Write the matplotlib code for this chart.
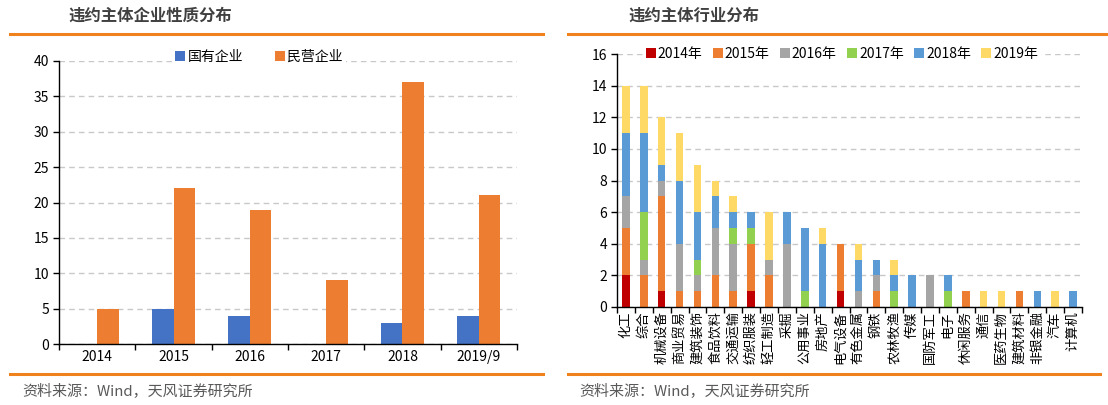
import numpy as np
import matplotlib
matplotlib.use("Agg")
from matplotlib import pyplot as plt
from matplotlib.lines import Line2D

plt.rcParams['font.family'] = ['Noto Sans CJK SC', 'DejaVu Sans']
plt.rcParams['axes.unicode_minus'] = False

# 左图：违约主体企业性质分布
years = ['2014', '2015', '2016', '2017', '2018', '2019/9']
soe = [0, 5, 4, 0, 3, 4]
private = [5, 22, 19, 9, 37, 21]

# 右图：违约主体行业分布
industries = ['化工', '综合', '机械设备', '商业贸易', '建筑装饰', '食品饮料', '交通运输',
              '纺织服装', '轻工制造', '采掘', '公用事业', '房地产', '电气设备', '有色金属',
              '钢铁', '农林牧渔', '传媒', '国防军工', '电子', '休闲服务', '通信', '医药生物',
              '建筑材料', '非银金融', '汽车', '计算机']
y2014 = [2, 0, 1, 0, 0, 0, 0, 1, 0, 0, 0, 0, 1, 0, 0, 0, 0, 0, 0, 0, 0, 0, 0, 0, 0, 0]
y2015 = [3, 2, 6, 1, 1, 2, 1, 3, 2, 0, 0, 0, 3, 0, 1, 0, 0, 0, 0, 1, 0, 0, 1, 0, 0, 0]
y2016 = [2, 1, 1, 3, 1, 3, 3, 0, 1, 4, 0, 0, 0, 1, 1, 0, 0, 2, 0, 0, 0, 0, 0, 0, 0, 0]
y2017 = [0, 3, 0, 0, 1, 0, 1, 1, 0, 0, 1, 0, 0, 0, 0, 1, 0, 0, 1, 0, 0, 0, 0, 0, 0, 0]
y2018 = [4, 5, 1, 4, 3, 2, 1, 1, 0, 2, 4, 4, 0, 2, 1, 1, 2, 0, 1, 0, 0, 0, 0, 1, 0, 1]
y2019 = [3, 3, 3, 3, 3, 1, 1, 0, 3, 0, 0, 1, 0, 1, 0, 1, 0, 0, 0, 0, 1, 1, 0, 0, 1, 0]
series_labels = ['2014年', '2015年', '2016年', '2017年', '2018年', '2019年']

W, H = 1108, 405
fig = plt.figure(figsize=(W / 100, H / 100), dpi=100)


def fx(px):
    return px / W


def fy(py):
    return 1 - py / H


ORANGE_LINE = '#F0821E'
TITLE_C = '#404040'
GRID_C = '#C8C8C8'


def style_axes(ax):
    for s in ['top', 'right']:
        ax.spines[s].set_visible(False)
    for s in ['left', 'bottom']:
        ax.spines[s].set_color('black')
        ax.spines[s].set_linewidth(1.0)
    ax.yaxis.grid(True, linestyle=(0, (4, 3)), color=GRID_C, linewidth=1)
    ax.set_axisbelow(True)
    ax.tick_params(axis='y', length=4, width=1, labelsize=10, pad=3, colors='black')
    ax.tick_params(axis='x', which='minor', length=4, width=1, direction='out')
    ax.tick_params(axis='x', which='major', length=0, labelsize=10, pad=4)


# ---------- 左图 ----------
ax1 = fig.add_axes([fx(59), fy(344), fx(517 - 59), fy(61) - fy(344)])
x = np.arange(len(years))
bw = 0.28
ax1.bar(x - bw / 2, soe, bw, color='#4472C4', label='国有企业')
ax1.bar(x + bw / 2, private, bw, color='#ED7D31', label='民营企业')
ax1.set_xlim(-0.5, len(years) - 0.5)
ax1.set_ylim(0, 40)
ax1.set_yticks(range(0, 41, 5))
ax1.set_xticks(x)
ax1.set_xticklabels(years)
ax1.set_xticks(np.arange(-0.5, len(years), 1), minor=True)
style_axes(ax1)
leg1 = ax1.legend(loc='center', bbox_to_anchor=((259 - 59) / (517 - 59), 1.015),
                  ncol=2, frameon=True, fontsize=10, handlelength=0.7, handleheight=0.7,
                  handletextpad=0.2, columnspacing=2.3, borderpad=0.2, fancybox=False)
leg1.get_frame().set_edgecolor('none')
leg1.get_frame().set_facecolor('white')
leg1.get_frame().set_alpha(1)

# ---------- 右图 ----------
ax2 = fig.add_axes([fx(617), fy(307), fx(1082 - 617), fy(54) - fy(307)])
xi = np.arange(len(industries))
colors = ['#C00000', '#ED7D31', '#A5A5A5', '#92D050', '#5B9BD5', '#FFD966']
bottom = np.zeros(len(industries))
for vals, lab, c in zip([y2014, y2015, y2016, y2017, y2018, y2019], series_labels, colors):
    ax2.bar(xi, vals, 0.42, bottom=bottom, color=c, label=lab)
    bottom += np.array(vals)
ax2.set_xlim(-0.5, len(industries) - 0.5)
ax2.set_ylim(0, 16)
ax2.set_yticks(range(0, 17, 2))
ax2.set_xticks(xi)
ax2.set_xticklabels(industries, rotation=90)
ax2.set_xticks(np.arange(-0.5, len(industries), 1), minor=True)
style_axes(ax2)
ax2.tick_params(axis='x', which='major', labelsize=9.5, pad=3)
leg2 = ax2.legend(loc='center', bbox_to_anchor=((842 - 617) / (1082 - 617), 1.0),
                  ncol=6, frameon=True, fontsize=10, handlelength=0.7, handleheight=0.7,
                  handletextpad=0.15, columnspacing=0.75, borderpad=0.2, fancybox=False)
leg2.get_frame().set_edgecolor('none')
leg2.get_frame().set_facecolor('white')
leg2.get_frame().set_alpha(1)

# ---------- 标题、分隔线、来源 ----------
fig.text(fx(68), fy(16), '违约主体企业性质分布', fontsize=11.8, fontweight='bold',
         color=TITLE_C, va='center', ha='left')
fig.text(fx(628), fy(16), '违约主体行业分布', fontsize=11.8, fontweight='bold',
         color=TITLE_C, va='center', ha='left')
for x0, x1 in [(10, 543), (568, 1108)]:
    fig.add_artist(Line2D([fx(x0), fx(x1)], [fy(34), fy(34)], color=ORANGE_LINE, linewidth=2.2))
for x0, x1 in [(10, 543), (568, 1100)]:
    fig.add_artist(Line2D([fx(x0), fx(x1)], [fy(374), fy(374)], color=ORANGE_LINE, linewidth=2.2))
fig.text(fx(22), fy(392), '资料来源：Wind，天风证券研究所', fontsize=10.8, color='#595959',
         va='center', ha='left')
fig.text(fx(579), fy(392), '资料来源：Wind，天风证券研究所', fontsize=10.8, color='#595959',
         va='center', ha='left')

fig.savefig('out.png', dpi=100)
